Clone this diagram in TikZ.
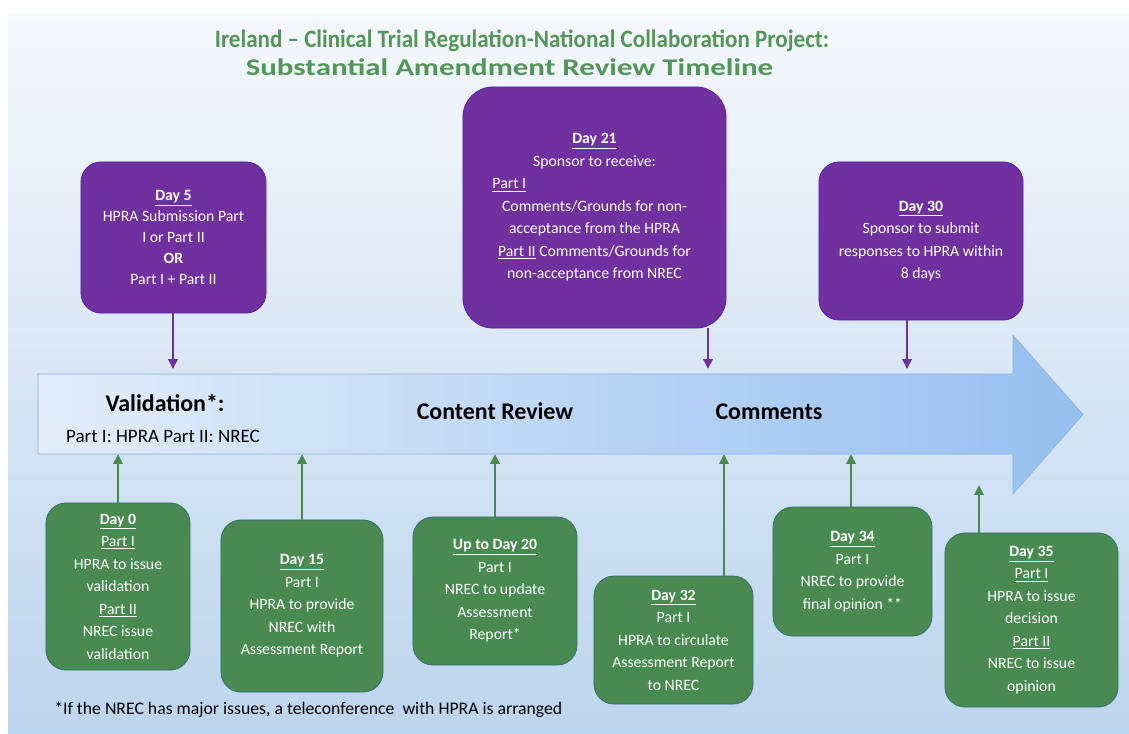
\documentclass[tikz,border=0pt]{standalone}
\usepackage{fontspec}
\usepackage{graphicx}
\setmainfont{Carlito}
\usetikzlibrary{arrows.meta}

\definecolor{hpurple}{RGB}{112,48,160}
\definecolor{hgreen}{RGB}{72,138,80}
\definecolor{titlegreen}{RGB}{84,150,90}
\definecolor{bgtop}{RGB}{245,248,252}
\definecolor{bgbottom}{RGB}{188,213,238}
\definecolor{arrowleft}{RGB}{226,237,250}
\definecolor{arrowright}{RGB}{150,192,240}
\definecolor{arrowedge}{RGB}{140,176,220}

\newcommand{\boxfont}{\fontsize{11.2}{16}\selectfont}
\newcommand{\daylabel}[1]{\underline{\textbf{#1}}}

\begin{document}
\begin{tikzpicture}[x=0.025cm, y=-0.025cm,
    purplebox/.style={draw=hpurple!75!blue, line width=0.6pt, fill=hpurple, text=white,
        rounded corners=0.5cm, align=center, font=\boxfont, inner sep=0pt},
    greenbox/.style={draw=hgreen!80!blue, line width=0.6pt, fill=hgreen, text=white,
        rounded corners=0.5cm, align=center, font=\boxfont, inner sep=0pt},
    purplearrow/.style={draw=hpurple, line width=1.8pt, -{Triangle[length=7pt,width=6.5pt]}},
    greenarrow/.style={draw=hgreen, line width=1.8pt, -{Triangle[length=7pt,width=6.5pt]}},
    phase/.style={font=\fontsize{17}{20}\selectfont\bfseries, anchor=base}]
    \useasboundingbox (0,0) rectangle (1129,733);

    % Background
    \fill[top color=bgtop, bottom color=bgbottom] (8,13) rectangle (1129,733);

    % Title
    \node[anchor=base, text=titlegreen, inner sep=0pt] (title1) at (522,47)
        {\resizebox{15.35cm}{0.44cm}{\bfseries Ireland -- Clinical Trial Regulation-National Collaboration Project:}};
    \node[anchor=base, text=titlegreen, inner sep=0pt] (title2) at (509.5,75)
        {\resizebox{13.18cm}{0.42cm}{\bfseries Substantial Amendment Review Timeline}};

    % Timeline arrow
    \draw[draw=arrowedge, left color=arrowleft, right color=arrowright]
        (38,374) -- (1013,374) -- (1013,335) -- (1083,414.5) -- (1013,494) -- (1013,454) -- (38,454) -- cycle;
    \node[phase] (valid) at (165,411) {Validation*:};
    \node[anchor=base, font=\fontsize{13.5}{16}\selectfont] (parts) at (163,442) {Part I: HPRA Part II: NREC};
    \node[phase] (content) at (495,419) {Content Review};
    \node[phase] (comments) at (769,419) {Comments};

    % Points on the timeline
    \coordinate (t5) at (173,369);
    \coordinate (t21) at (708,369);
    \coordinate (t30) at (907,369);
    \coordinate (b0) at (118,454);
    \coordinate (b15) at (302,454);
    \coordinate (b20) at (495,454);
    \coordinate (b32) at (724,454);
    \coordinate (b34) at (851,454);
    \coordinate (b35) at (979,485);

    % Sponsor / submission steps (above)
    \node[purplebox, minimum width=4.625cm, minimum height=3.775cm, font=\fontsize{11.2}{15}\selectfont]
        (day5) at (173.5,237.5)
        {\daylabel{Day 5}\\ HPRA Submission Part\\ I or Part II\\ \textbf{OR}\\ Part I + Part II};
    \node[purplebox, rounded corners=0.75cm, minimum width=6.575cm, minimum height=6.025cm]
        (day21) at (594.5,207.5)
        {\daylabel{Day 21}\\ Sponsor to receive:\\ \makebox[5.1cm][l]{\underline{Part I}}\\
         Comments/Grounds for non-\\ acceptance from the HPRA\\
         \underline{Part II} Comments/Grounds for\\ non-acceptance from NREC};
    \node[purplebox, minimum width=5.1cm, minimum height=3.95cm] (day30) at (921,241)
        {\daylabel{Day 30}\\ Sponsor to submit\\ responses to HPRA within\\ 8 days};

    \draw[purplearrow] (day5.south -| t5) -- (t5);
    \draw[purplearrow] (day21.south -| t21) -- (t21);
    \draw[purplearrow] (day30.south -| t30) -- (t30);

    % Review steps (below)
    \node[greenbox, minimum width=3.6cm, minimum height=4.175cm] (day0) at (118,586.5)
        {\daylabel{Day 0}\\ \underline{Part I}\\ HPRA to issue\\ validation\\ \underline{Part II}\\ NREC issue\\ validation};
    \node[greenbox, minimum width=4.05cm, minimum height=4.3cm] (day15) at (302,606)
        {\daylabel{Day 15}\\ Part I\\ HPRA to provide\\ NREC with\\ Assessment Report};
    \node[greenbox, minimum width=4.1cm, minimum height=3.7cm] (day20) at (495,591)
        {\daylabel{Up to Day 20}\\ Part I\\ NREC to update\\ Assessment\\ Report*};
    \node[greenbox, minimum width=3.975cm, minimum height=3.2cm] (day32) at (673.5,640)
        {\daylabel{Day 32}\\ Part I\\ HPRA to circulate\\ Assessment Report\\ to NREC};
    \node[greenbox, minimum width=3.975cm, minimum height=3.225cm] (day34) at (852.5,571.5)
        {\daylabel{Day 34}\\ Part I\\ NREC to provide\\ final opinion **};
    \node[greenbox, minimum width=4.325cm, minimum height=4.35cm] (day35) at (1031.5,620)
        {\daylabel{Day 35}\\ \underline{Part I}\\ HPRA to issue\\ decision\\ \underline{Part II}\\ NREC to issue\\ opinion};

    \draw[greenarrow] (day0.north -| b0) -- (b0);
    \draw[greenarrow] (day15.north -| b15) -- (b15);
    \draw[greenarrow] (day20.north -| b20) -- (b20);
    \draw[greenarrow] (day32.north -| b32) -- (b32);
    \draw[greenarrow] (day34.north -| b34) -- (b34);
    \draw[greenarrow] (day35.north -| b35) -- (b35);

    % Footnote
    \node[anchor=base west, font=\fontsize{12.6}{14}\selectfont, inner sep=0pt] (note) at (54,714)
        {*If the NREC has major issues, a teleconference~ with HPRA is arranged};
\end{tikzpicture}
\end{document}
